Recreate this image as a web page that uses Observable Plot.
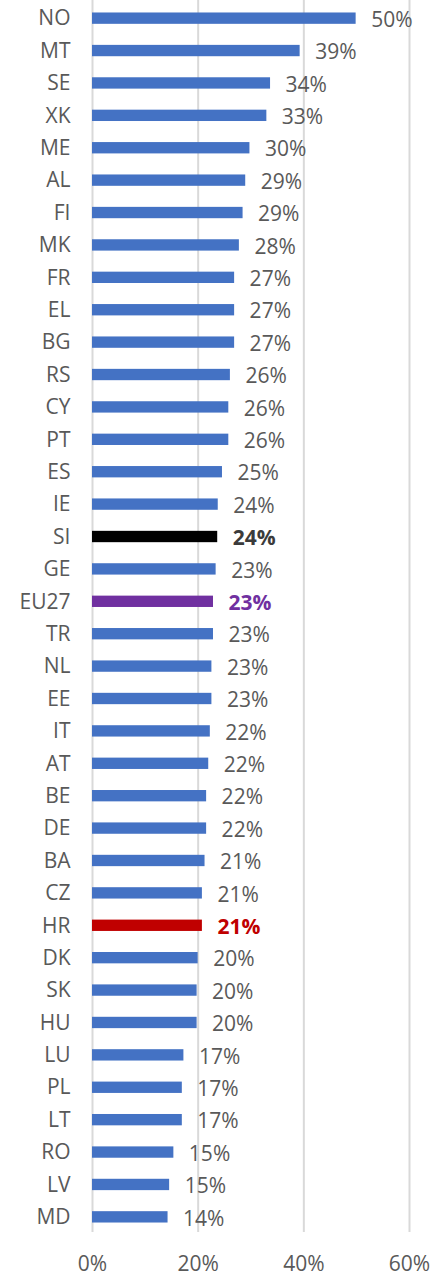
<!DOCTYPE html>
<html>
<head>
<meta charset="utf-8">
<script src="https://cdn.jsdelivr.net/npm/d3@7"></script>
<script src="https://cdn.jsdelivr.net/npm/@observablehq/plot@0.6"></script>
<style>
  html, body { margin: 0; padding: 0; background: #fff; }
  #chart svg { display: block; }
</style>
</head>
<body>
<div id="chart"></div>
<script>
const countries = ["NO","MT","SE","XK","ME","AL","FI","MK","FR","EL","BG","RS","CY","PT","ES","IE","SI","GE","EU27","TR","NL","EE","IT","AT","BE","DE","BA","CZ","HR","DK","SK","HU","LU","PL","LT","RO","LV","MD"];
const values = [49.9,39.3,33.7,33.0,29.8,29.0,28.5,27.8,26.9,26.9,26.9,26.1,25.8,25.8,24.6,23.8,23.7,23.4,22.9,22.9,22.6,22.6,22.3,22.0,21.6,21.6,21.3,20.8,20.8,20.0,19.8,19.8,17.3,17.0,17.0,15.4,14.6,14.3];
const labels = ["50%","39%","34%","33%","30%","29%","29%","28%","27%","27%","27%","26%","26%","26%","25%","24%","24%","23%","23%","23%","23%","23%","22%","22%","22%","22%","21%","21%","21%","20%","20%","20%","17%","17%","17%","15%","15%","14%"];
const xTicks = [0, 20, 40, 60];
const highlight = {SI: {bar: "#000000", text: "#3b3b3b"}, EU27: {bar: "#7030A0", text: "#7030A0"}, HR: {bar: "#C00000", text: "#C00000"}};

const data = countries.map((c, i) => ({
  country: c, value: values[i], label: labels[i],
  bar: highlight[c] ? highlight[c].bar : "#4472C4",
  text: highlight[c] ? highlight[c].text : "#595959",
  hi: !!highlight[c]
}));

const font = "'Open Sans', sans-serif";
const fs = 21;
const chart = Plot.plot({
  width: 436,
  height: 1278,
  marginLeft: 92,
  marginRight: 27,
  marginTop: 6,
  marginBottom: 49,
  style: {fontFamily: font, fontSize: fs + "px", color: "#595959", background: "#fff"},
  x: {domain: [0, 60], ticks: xTicks, tickFormat: d => d + "%", label: null},
  y: {domain: countries, paddingInner: 0.65, paddingOuter: 0.2, round: false, label: null},
  marks: [
    Plot.ruleX(xTicks, {stroke: "#d9d9d9", strokeWidth: 2, insetTop: -6, insetBottom: -3}),
    Plot.barX(data, {y: "country", x: "value", fill: "bar"}),
    Plot.text(data.filter(d => !d.hi), {y: "country", x: "value", text: "label", fill: "text", textAnchor: "start", dx: 15, dy: 1.5, fontSize: fs}),
    Plot.text(data.filter(d => d.hi), {y: "country", x: "value", text: "label", fill: "text", fontWeight: "bold", textAnchor: "start", dx: 15, dy: 1.5, fontSize: fs}),
    Plot.axisY({tickSize: 0, tickPadding: 22, fontSize: fs, fill: "#595959", label: null}),
    Plot.axisX(xTicks, {tickSize: 0, tickPadding: 27, fontSize: fs, fill: "#595959", tickFormat: d => d + "%", label: null})
  ]
});
document.getElementById("chart").appendChild(chart);
</script>
</body>
</html>
